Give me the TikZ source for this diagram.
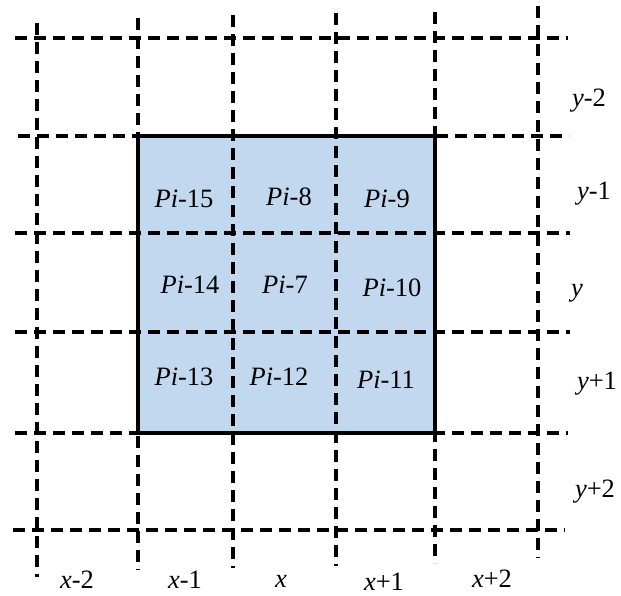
\documentclass[tikz,border=0pt]{standalone}
\usepackage{fontspec}
\setmainfont{Liberation Serif}
\definecolor{cellblue}{RGB}{194,216,238}
\begin{document}
\begin{tikzpicture}[x=1pt,y=-1pt,
  gridline/.style={line width=3.2pt,dash pattern=on 12pt off 7pt,black},
  border/.style={line width=3.6pt,black},
  celllabel/.style={font=\fontsize{26.5}{30}\selectfont,anchor=base,inner sep=0pt},
  axislabel/.style={font=\fontsize{26.5}{30}\selectfont,anchor=base,inner sep=0pt}]
\useasboundingbox (0,0) rectangle (621,595);
% shaded block
\fill[cellblue] (138,136) rectangle (435,433);
% horizontal dashed lines
\draw[gridline] (15,38) -- (568,38);
\draw[gridline] (18,136) -- (569,136);
\draw[gridline] (15,233) -- (570,233);
\draw[gridline] (15,332) -- (570,332);
\draw[gridline] (15,433) -- (568,433);
\draw[gridline] (13,530) -- (565,530);
% vertical dashed lines
\draw[gridline] (37,23) -- (37,577);
\draw[gridline] (138,18) -- (138,570);
\draw[gridline] (233,15) -- (233,568);
\draw[gridline] (336,13) -- (336,566);
\draw[gridline] (435,12) -- (435,563);
\draw[gridline] (538,6) -- (538,558);
% border of block
\draw[border] (138,136) rectangle (435,433);
% cell labels
\node[celllabel] (p15) at (184,207) {\textit{Pi}-15};
\node[celllabel] (p8)  at (289,205) {\textit{Pi}-8};
\node[celllabel] (p9)  at (387,207) {\textit{Pi}-9};
\node[celllabel] (p14) at (190,293) {\textit{Pi}-14};
\node[celllabel] (p7)  at (285,293) {\textit{Pi}-7};
\node[celllabel] (p10) at (392,296) {\textit{Pi}-10};
\node[celllabel] (p13) at (184,385) {\textit{Pi}-13};
\node[celllabel] (p12) at (279,385) {\textit{Pi}-12};
\node[celllabel] (p11) at (386,388) {\textit{Pi}-11};
% row labels
\node[axislabel] (ym2) at (589,106) {\textit{y}-2};
\node[axislabel] (ym1) at (594,199) {\textit{y}-1};
\node[axislabel] (y0)  at (577,296) {\textit{y}};
\node[axislabel] (yp1) at (597,389) {\textit{y}+1};
\node[axislabel] (yp2) at (595,497) {\textit{y}+2};
% column labels
\node[axislabel] (xm2) at (77,588) {\textit{x}-2};
\node[axislabel] (xm1) at (185,588) {\textit{x}-1};
\node[axislabel] (x0)  at (281,587) {\textit{x}};
\node[axislabel] (xp1) at (384,590) {\textit{x}+1};
\node[axislabel] (xp2) at (492,587) {\textit{x}+2};
\end{tikzpicture}
\end{document}
